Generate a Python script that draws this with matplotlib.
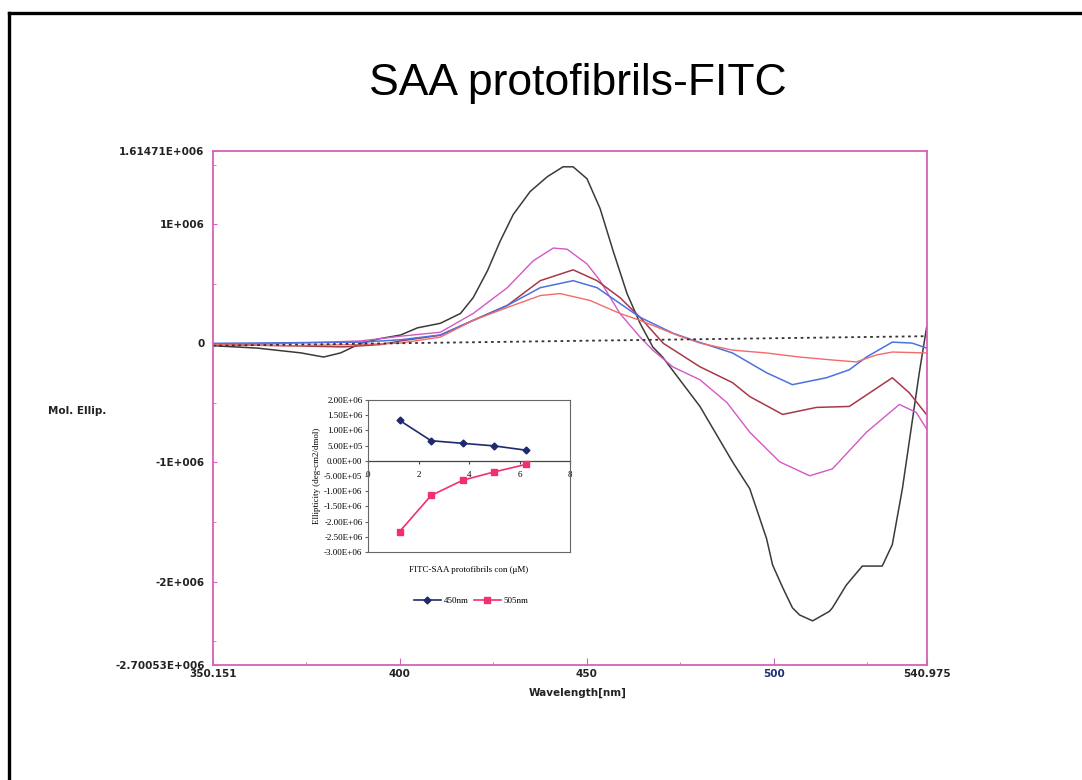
import numpy as np
import matplotlib.pyplot as plt
from matplotlib.lines import Line2D
from matplotlib.ticker import FixedLocator

# CD spectra (Mol. Ellip. in units of 1E+006) for the protofibril series
wl_black = [350.15, 362, 373.6, 379.7, 384.3, 389.6, 394.9, 400.3, 404.8, 410.9, 416.3, 419.7,
            423.5, 426.9, 430.4, 434.9, 439.5, 443.7, 446.4, 450.1, 453.6, 457.1, 460.8, 464.3,
            467.7, 470.3, 480.3, 489.0, 493.6, 498.1, 499.7, 502.4, 505.0, 506.9, 510.4, 514.9,
            515.7, 519.4, 521.0, 523.7, 529.0, 531.7, 534.4, 537.0, 538.9, 540.9]
el_black = [-0.02, -0.04, -0.08, -0.115, -0.08, 0.0, 0.04, 0.07, 0.13, 0.168, 0.251, 0.384,
            0.609, 0.858, 1.082, 1.274, 1.399, 1.482, 1.482, 1.382, 1.132, 0.775, 0.418, 0.168,
            -0.031, -0.115, -0.53, -0.995, -1.22, -1.64, -1.86, -2.05, -2.22, -2.28, -2.33, -2.25,
            -2.22, -2.03, -1.97, -1.87, -1.87, -1.69, -1.22, -0.66, -0.25, 0.14]

wl_magenta = [350.15, 370, 389.6, 400.3, 410.9, 419.7, 428.8, 435.7, 441.1, 444.8, 450.1, 453.6,
              458.9, 464.3, 467.7, 473.0, 480.3, 487.5, 493.6, 501.6, 509.6, 515.7, 524.8, 533.6,
              538.1, 540.9]
el_magenta = [-0.01, 0.0, 0.02, 0.06, 0.093, 0.251, 0.467, 0.692, 0.80, 0.79, 0.667, 0.526,
              0.251, 0.052, -0.057, -0.197, -0.306, -0.497, -0.746, -0.995, -1.112, -1.054, -0.746, -0.513,
              -0.58, -0.72]

wl_brown = [350.15, 370, 385, 395, 400.3, 410.9, 419.7, 428.8, 437.6, 446.4, 452.8, 458.9,
            464.3, 470.5, 480.3, 489.0, 493.6, 502.4, 511.4, 520.2, 531.7, 536.2, 540.9]
el_brown = [-0.01, -0.02, -0.03, -0.01, 0.02, 0.068, 0.193, 0.318, 0.526, 0.617, 0.526, 0.384,
            0.218, 0.0, -0.197, -0.33, -0.447, -0.597, -0.538, -0.53, -0.289, -0.414, -0.60]

wl_blue = [350.15, 370, 390, 400.3, 410.9, 419.7, 428.8, 437.6, 446.4, 452.8, 458.9, 464.3,
           473.1, 478.4, 489.0, 498.1, 505.0, 514.1, 520.2, 524.8, 531.7, 537.0, 540.9]
el_blue = [0.0, 0.005, 0.01, 0.03, 0.07, 0.193, 0.318, 0.467, 0.526, 0.467, 0.335, 0.218,
           0.085, 0.027, -0.081, -0.247, -0.347, -0.289, -0.222, -0.115, 0.010, 0.002, -0.04]

wl_salmon = [350.15, 370, 390, 400.3, 410.9, 419.7, 428.8, 437.6, 442.9, 450.9, 458.9, 464.3,
             474.2, 480.3, 489.0, 498.1, 506.9, 515.7, 522.1, 527.4, 531.7, 540.9]
el_salmon = [-0.01, -0.02, -0.01, 0.002, 0.052, 0.193, 0.301, 0.401, 0.418, 0.36, 0.251, 0.193,
             0.068, 0.002, -0.057, -0.081, -0.115, -0.14, -0.156, -0.098, -0.073, -0.081]

# baseline (buffer) trace
wl_base = [350.151, 540.975]
el_base = [-0.02, 0.06]

x_ticks = [350.151, 400, 450, 500, 540.975]
x_labels = ["350.151", "400", "450", "500", "540.975"]
y_ticks = [1.61471e6, 1e6, 0, -1e6, -2e6, -2.70053e6]
y_labels = ["1.61471E+006", "1E+006", "0", "-1E+006", "-2E+006", "-2.70053E+006"]

# inset: ellipticity vs concentration
conc = [1.25, 2.5, 3.75, 5.0, 6.25]
ell_450 = [1.33e6, 0.66e6, 0.575e6, 0.49e6, 0.35e6]
ell_505 = [-2.33e6, -1.14e6, -0.64e6, -0.365e6, -0.12e6]

pink = "#d462b6"

fig = plt.figure(figsize=(10.82, 7.8), dpi=100)

# slide frame (only top and left edges fall inside the image)
fig.add_artist(Line2D([8.5 / 1082, 8.5 / 1082], [0, 1 - 13 / 780], color="black", lw=2.4,
                      transform=fig.transFigure))
fig.add_artist(Line2D([8.5 / 1082, 1], [1 - 13 / 780, 1 - 13 / 780], color="black", lw=2.4,
                      transform=fig.transFigure))

fig.text(578 / 1082, 1 - 95 / 780, "SAA protofibrils-FITC", ha="center", va="baseline",
         fontsize=32, family="Liberation Sans")

ax = fig.add_axes([213 / 1082, 1 - 665 / 780, 714 / 1082, 514 / 780])
s = 1e6
ax.plot(wl_black, np.array(el_black) * s, color="#3a3a3a", lw=1.1)
ax.plot(wl_magenta, np.array(el_magenta) * s, color="#d458c6", lw=1.0)
ax.plot(wl_brown, np.array(el_brown) * s, color="#a83848", lw=1.1)
ax.plot(wl_blue, np.array(el_blue) * s, color="#4a72e0", lw=1.1)
ax.plot(wl_salmon, np.array(el_salmon) * s, color="#f26b6b", lw=1.0)
ax.plot(wl_base, np.array(el_base) * s, color="#333333", lw=1.3, ls=(0, (1.5, 2)))

ax.set_xlim(350.151, 540.975)
ax.set_ylim(-2.70053e6, 1.61471e6)
ax.set_xticks(x_ticks)
ax.set_xticklabels(x_labels)
ax.set_yticks(y_ticks)
ax.set_yticklabels(y_labels)
ax.xaxis.set_minor_locator(FixedLocator([375, 425, 475, 525]))
ax.yaxis.set_minor_locator(FixedLocator([1.5e6, 0.5e6, -0.5e6, -1.5e6, -2.5e6]))
for sp in ax.spines.values():
    sp.set_color(pink)
    sp.set_linewidth(1.3)
ax.tick_params(axis="x", which="major", direction="in", length=5, color=pink, pad=3)
ax.tick_params(axis="x", which="minor", direction="in", length=2, color=pink)
ax.tick_params(axis="y", which="major", direction="in", length=3, color=pink, pad=6)
ax.tick_params(axis="y", which="minor", direction="in", length=2, color=pink)
for lab in ax.get_xticklabels() + ax.get_yticklabels():
    lab.set_fontsize(7.5)
    lab.set_fontweight("bold")
    lab.set_color("#222222")
ax.get_xticklabels()[3].set_color("#1c2f7a")

fig.text(77 / 1082, 1 - 411 / 780, "Mol. Ellip.", ha="center", va="center",
         fontsize=7.5, fontweight="bold", color="#222222")
fig.text(578 / 1082, 1 - 693 / 780, "Wavelength[nm]", ha="center", va="center",
         fontsize=7.5, fontweight="bold", color="#222222")

# inset chart
serif = "Liberation Serif"
ins = fig.add_axes([368 / 1082, 1 - 552 / 780, 202 / 1082, 152 / 780])
ins.plot(conc, ell_450, color="#1f2a6e", lw=1.2, marker="D", ms=3.5, label="450nm")
ins.plot(conc, ell_505, color="#f2306e", lw=1.2, marker="s", ms=4, label="505nm")
ins.set_xlim(0, 8)
ins.set_ylim(-3e6, 2e6)
yt = np.arange(-3e6, 2.01e6, 0.5e6)
ins.set_yticks(yt)
ins.set_yticklabels([f"{v:.2E}" for v in yt], family=serif, fontsize=6.5)
ins.set_xticks([])
for sp in ins.spines.values():
    sp.set_color("#666666")
    sp.set_linewidth(0.8)
ins.tick_params(axis="y", direction="out", length=2.5, color="#666666", pad=1.5)

# category axis crossing at zero
zero_ax = ins.secondary_xaxis(0.6)
zero_ax.set_alignment("bottom")
zero_ax.set_xticks([0, 2, 4, 6, 8])
zero_ax.set_xticklabels(["0", "2", "4", "6", "8"], family=serif, fontsize=6.5)
for sp in zero_ax.spines.values():
    sp.set_color("#444444")
    sp.set_linewidth(0.9)
zero_ax.tick_params(direction="out", length=2, color="#444444", pad=5)

ins.set_ylabel("Ellipticity (deg-cm2/dmol)", family=serif, fontsize=6.5, labelpad=2)
ins.text(0.5, -0.12, "FITC-SAA protofibrils con (\u03bcM)", transform=ins.transAxes,
         ha="center", va="center", family=serif, fontsize=6.5)
ins.legend(loc="center", bbox_to_anchor=(471 / 1082, 1 - 601 / 780),
           bbox_transform=fig.transFigure, ncol=2, frameon=False, handlelength=3,
           columnspacing=0.6, handletextpad=0.3, prop={"family": serif, "size": 6.5})

plt.savefig("out.png", dpi=100)
